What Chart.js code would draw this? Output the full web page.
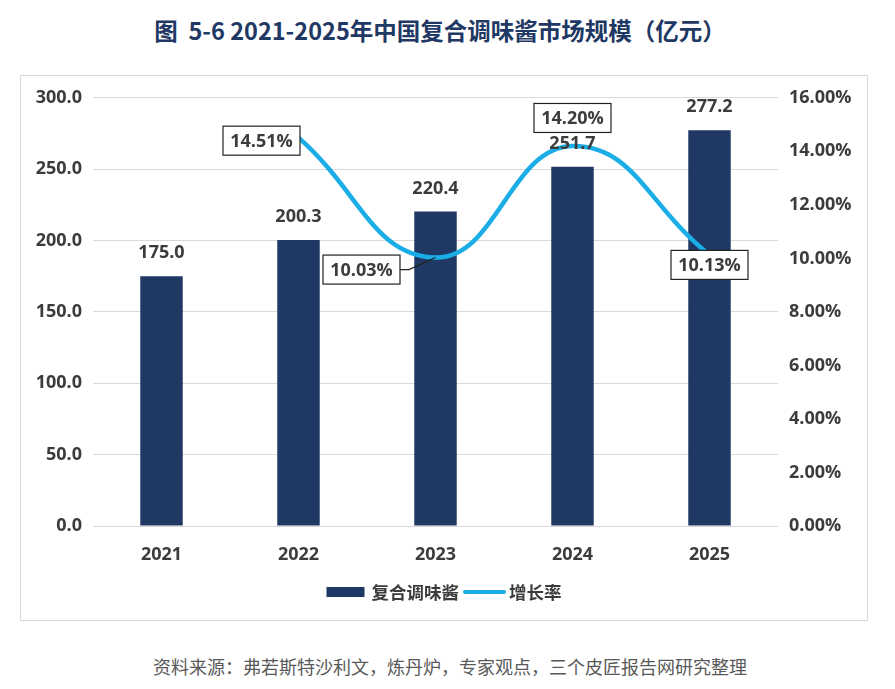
<!DOCTYPE html>
<html lang="zh-CN">
<head>
<meta charset="UTF-8">
<title>2021-2025年中国复合调味酱市场规模</title>
<script src="https://cdn.jsdelivr.net/npm/chart.js@4.4.1/dist/chart.umd.min.js"></script>
<style>
  body { margin: 0; width: 895px; height: 689px; background: #fff; position: relative; font-family: "Noto Sans CJK SC", sans-serif; }
  .title { position: absolute; top: 13px; left: 0; width: 880px; text-align: center; font-size: 23.5px; font-weight: bold; color: #1f3864; line-height: 34px; }
  .box { position: absolute; left: 20px; top: 75px; width: 846px; height: 544px; border: 1px solid #d9d9d9; }
  .source { position: absolute; top: 654px; left: 0; width: 900px; text-align: center; font-size: 18px; color: #595959; line-height: 24px; }
</style>
</head>
<body>
<div class="title">图&nbsp;&nbsp;5-6 2021-2025年中国复合调味酱市场规模（亿元）</div>
<div class="box"><canvas id="chart" width="846" height="544"></canvas></div>
<div class="source">资料来源：弗若斯特沙利文，炼丹炉，专家观点，三个皮匠报告网研究整理</div>

<script>
// données
const years = ['2021', '2022', '2023', '2024', '2025'];
const marketSize = [175.0, 200.3, 220.4, 251.7, 277.2];   // 亿元
const growthRate = [null, 14.51, 10.03, 14.20, 10.13];     // %
const sizeLabel = '复合调味酱';
const rateLabel = '增长率';

const NAVY = '#1f3864';
const BLUE = '#1aade6';
const TXT = '#3c3c3c';
const numFont = { family: '"Open Sans", sans-serif', size: 18, weight: 'bold' };

// où poser chaque étiquette de taux, par rapport au point (dx, dy du centre de la boîte)
const rateBoxPlace = [null, { dx: -37, dy: 3 }, { dx: -74, dy: 12, leader: true }, { dx: 0, dy: -28 }, { dx: 0, dy: 10 }];

const labelsPlugin = {
  id: 'labelsPlugin',
  afterDatasetsDraw(chart) {
    const { ctx } = chart;
    ctx.save();
    ctx.font = 'bold 18px "Open Sans", sans-serif';
    ctx.textAlign = 'center';
    ctx.textBaseline = 'middle';

    // valeurs au-dessus des barres
    const barMeta = chart.getDatasetMeta(1);
    barMeta.data.forEach((bar, i) => {
      ctx.fillStyle = TXT;
      ctx.fillText(marketSize[i].toFixed(1), bar.x, bar.y - 23);
    });

    // boîtes des taux de croissance
    const lineMeta = chart.getDatasetMeta(0);
    lineMeta.data.forEach((pt, i) => {
      if (growthRate[i] == null) return;
      const p = rateBoxPlace[i];
      const cx = pt.x + p.dx, cy = pt.y + p.dy;
      const w = 77, h = 29;
      if (p.leader) {
        ctx.strokeStyle = '#222';
        ctx.lineWidth = 1.2;
        ctx.beginPath();
        ctx.moveTo(cx + w / 2, cy);
        ctx.lineTo(cx + w / 2 + 9, cy);
        ctx.lineTo(pt.x, pt.y);
        ctx.stroke();
      }
      ctx.fillStyle = '#fff';
      ctx.fillRect(cx - w / 2, cy - h / 2, w, h);
      ctx.strokeStyle = '#222';
      ctx.lineWidth = 1.2;
      ctx.strokeRect(cx - w / 2, cy - h / 2, w, h);
      ctx.fillStyle = TXT;
      ctx.fillText(growthRate[i].toFixed(2) + '%', cx, cy + 1);
    });
    ctx.restore();
  },
  afterDraw(chart) {
    // légende en bas
    const { ctx } = chart;
    ctx.save();
    ctx.font = 'bold 17.5px "Noto Sans CJK SC", sans-serif';
    ctx.textBaseline = 'middle';
    ctx.textAlign = 'left';
    const w1 = ctx.measureText(sizeLabel).width;
    const w2 = ctx.measureText(rateLabel).width;
    const total = 38 + 7 + w1 + 4 + 43 + 3 + w2;
    let x = 423 - total / 2;
    const y = 516;
    ctx.fillStyle = NAVY;
    ctx.fillRect(x, y - 5, 38, 10);
    x += 45;
    ctx.fillStyle = TXT;
    ctx.fillText(sizeLabel, x, y);
    x += w1 + 4;
    ctx.strokeStyle = BLUE;
    ctx.lineWidth = 4;
    ctx.lineCap = 'round';
    ctx.beginPath();
    ctx.moveTo(x + 2, y);
    ctx.lineTo(x + 41, y);
    ctx.stroke();
    x += 46;
    ctx.fillStyle = TXT;
    ctx.fillText(rateLabel, x, y);
    ctx.restore();
  }
};

new Chart(document.getElementById('chart'), {
  data: {
    labels: years,
    datasets: [{
      type: 'line',
      label: rateLabel,
      data: growthRate,
      yAxisID: 'y1',
      borderColor: BLUE,
      backgroundColor: BLUE,
      borderWidth: 4.5,
      tension: 0.45,
      pointRadius: 0,
      order: 0
    }, {
      type: 'bar',
      label: sizeLabel,
      data: marketSize,
      yAxisID: 'y',
      backgroundColor: NAVY,
      barPercentage: 0.31,
      categoryPercentage: 1,
      order: 1
    }]
  },
  options: {
    responsive: false,
    animation: false,
    layout: { padding: { top: 21, left: 0, right: 0, bottom: 0 } },
    plugins: { legend: { display: false }, tooltip: { enabled: false } },
    scales: {
      x: {
        grid: { display: false },
        border: { display: false },
        ticks: { font: numFont, color: TXT, padding: 10 },
        afterFit(s) { s.height = 94; }
      },
      y: {
        position: 'left',
        min: 0, max: 300,
        ticks: { stepSize: 50, font: numFont, color: TXT, padding: 11, callback: v => v.toFixed(1) },
        grid: { color: '#d9d9d9', lineWidth: 1, drawTicks: false },
        border: { display: false },
        afterFit(s) { s.width = 72; }
      },
      y1: {
        position: 'right',
        min: 0, max: 16,
        ticks: { stepSize: 2, font: numFont, color: TXT, padding: 11, callback: v => v.toFixed(2) + '%' },
        grid: { drawOnChartArea: false, drawTicks: false },
        border: { display: false },
        afterFit(s) { s.width = 89; }
      }
    }
  },
  plugins: [labelsPlugin]
});
</script>
</body>
</html>
